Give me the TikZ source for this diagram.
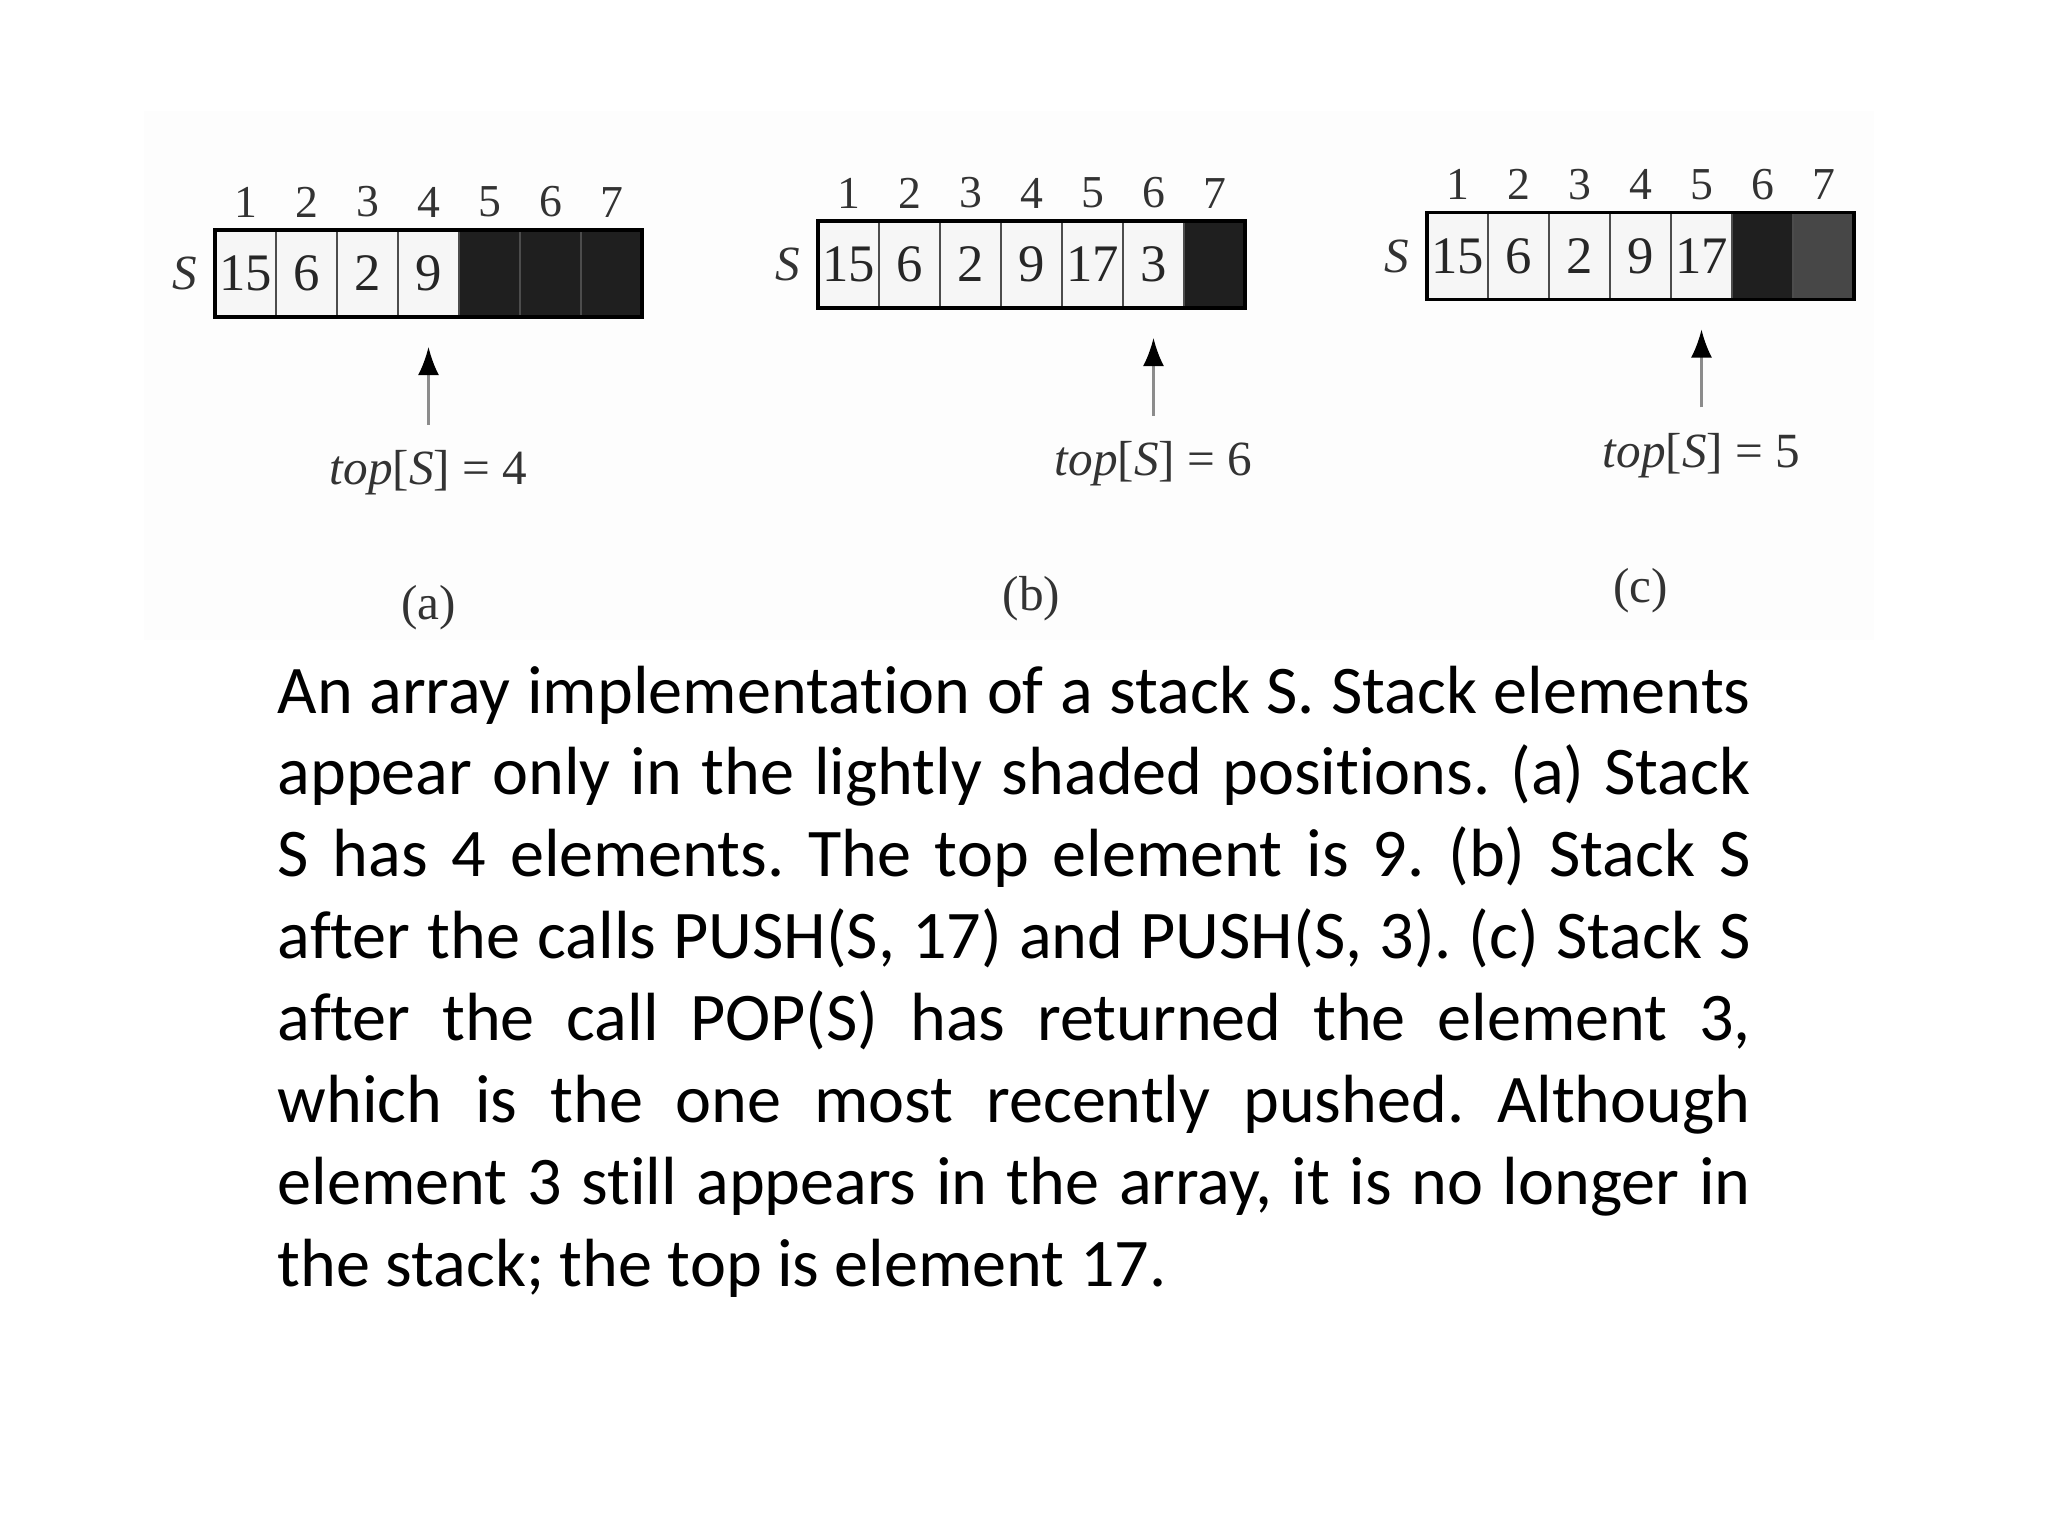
\documentclass[tikz,border=0pt]{standalone}
\usepackage{fontspec}
\usepackage{tikz}
\usetikzlibrary{positioning,arrows.meta}
\newfontfamily\capfont[Ligatures=NoCommon]{Carlito}
\newfontfamily\figfont{Liberation Serif}

\begin{document}
\begin{tikzpicture}[x=1cm, y=1cm,
    cell/.style={draw=black!70, line width=0.7pt, minimum width=0.61cm, minimum height=0.87cm,
      inner sep=0pt, outer sep=0pt, anchor=west, text=black!85, font=\figfont\fontsize{15}{15}\selectfont},
    used/.style={cell, fill=gray!7},
    free/.style={cell, fill=black!88},
    idx/.style={above=0.12cm of #1, inner sep=0pt, text=black!80, font=\figfont\fontsize{13}{13}\selectfont},
    lbl/.style={inner sep=0pt, text=black!80, font=\figfont\fontsize{14}{14}\selectfont},
    ptr/.style={draw=black!45, line width=0.7pt, -{Latex[length=8pt,width=6pt,color=black]},
      shorten <=0.25cm, shorten >=0.3cm}]
  \useasboundingbox (0,0) rectangle (20.48,-15.36);
  \fill[gray!1.5] (1.44,-1.11) rectangle (18.74,-6.40);

  % (a)
  \foreach \i/\v in {1/15,2/6,3/2,4/9}
    \node[used] (a\i) at (2.15+0.61*\i-0.61,-2.735) {\v};
  \foreach \i in {5,6,7}
    \node[free] (a\i) at (2.15+0.61*\i-0.61,-2.735) {};
  \foreach \i in {1,...,7}
    \node[idx=a\i] (na\i) {\i};
  \draw[line width=1.1pt] (a1.north west) rectangle (a7.south east);
  \node[lbl, left=0.17cm of a1] (Sa) {\textit{S}};
  \node[lbl, below=1.33cm of a4] (topA) {\textit{top}[\textit{S}] = 4};
  \draw[ptr] (topA.north) -- (a4.south);
  \node[lbl, below=2.68cm of a4] (capA) {(a)};

  % (b)
  \foreach \i/\v in {1/15,2/6,3/2,4/9,5/17,6/3}
    \node[used] (b\i) at (8.18+0.61*\i-0.61,-2.645) {\v};
  \node[free] (b7) at (8.18+0.61*6,-2.645) {};
  \foreach \i in {1,...,7}
    \node[idx=b\i] (nb\i) {\i};
  \draw[line width=1.1pt] (b1.north west) rectangle (b7.south east);
  \node[lbl, left=0.17cm of b1] (Sb) {\textit{S}};
  \node[lbl, below=1.33cm of b6] (topB) {\textit{top}[\textit{S}] = 6};
  \draw[ptr] (topB.north) -- (b6.south);
  \node[lbl, below=2.68cm of b4] (capB) {(b)};

  % (c)
  \foreach \i/\v in {1/15,2/6,3/2,4/9,5/17}
    \node[used] (c\i) at (14.27+0.61*\i-0.61,-2.56) {\v};
  \node[free] (c6) at (14.27+0.61*5,-2.56) {};
  \node[free, fill=black!72] (c7) at (14.27+0.61*6,-2.56) {};
  \foreach \i in {1,...,7}
    \node[idx=c\i] (nc\i) {\i};
  \draw[line width=1.1pt] (c1.north west) rectangle (c7.south east);
  \node[lbl, left=0.17cm of c1] (Sc) {\textit{S}};
  \node[lbl, below=1.33cm of c5] (topC) {\textit{top}[\textit{S}] = 5};
  \draw[ptr] (topC.north) -- (c5.south);
  \node[lbl, below=2.68cm of c4] (capC) {(c)};

  % caption text
  \node[anchor=base west, inner sep=0pt, text width=14.73cm, align=justify,
        font=\capfont\fontsize{19.4}{23.3}\selectfont] (caption) at (2.77,-7.13)
    {\frenchspacing\hyphenpenalty=10000\emergencystretch=3em
     An array implementation of a stack S. Stack elements\linebreak
     appear only in the lightly shaded positions. (a) Stack\linebreak
     S has 4 elements. The top element is 9. (b) Stack S\linebreak
     after the calls PUSH(S, 17) and PUSH(S, 3). (c) Stack S\linebreak
     after the call POP(S) has returned the element 3,\linebreak
     which is the one most recently pushed. Although\linebreak
     element 3 still appears in the array, it is no longer in\linebreak
     the stack; the top is element 17.};
\end{tikzpicture}
\end{document}
